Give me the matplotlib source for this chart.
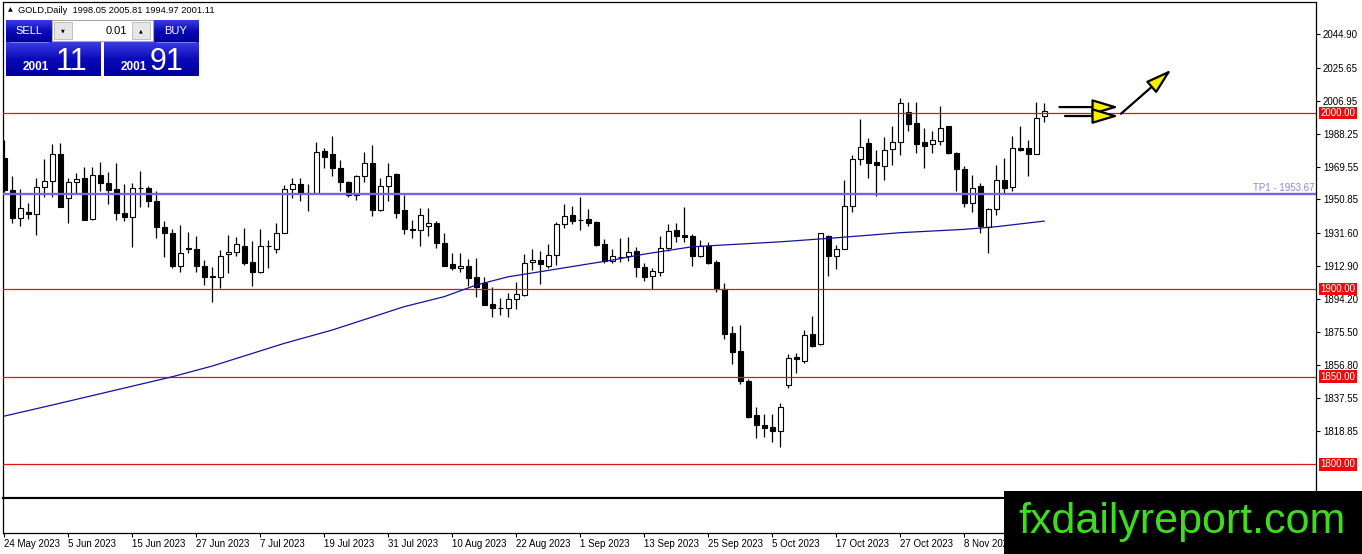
import numpy as np
import matplotlib.pyplot as plt
from matplotlib.patches import Rectangle
from matplotlib.colors import LinearSegmentedColormap
import matplotlib.transforms as mtransforms

plt.rcParams['font.family'] = ['Liberation Sans', 'DejaVu Sans']

# daily GOLD candles (bar 0 = 24 May 2023)
opens = [1974.2, 1956.2, 1940.0, 1943.8, 1942.3, 1958.1, 1961.5, 1976.5, 1951.4, 1960.5,
         1962.8, 1939.5, 1964.7, 1960.3, 1956.6, 1942.9, 1941.0, 1957.1, 1957.1, 1950.1,
         1935.3, 1931.5, 1913.0, 1923.3, 1922.6, 1912.9, 1907.2, 1906.9, 1919.5, 1920.7,
         1924.3, 1915.0, 1909.7, 1924.3, 1922.6, 1931.5, 1956.6, 1959.6, 1954.7, 1954.3,
         1978.4, 1976.7, 1968.9, 1960.9, 1953.3, 1964.1, 1971.7, 1944.8, 1958.4, 1965.1,
         1944.8, 1934.2, 1933.4, 1935.9, 1937.7, 1926.3, 1913.9, 1911.6, 1912.9, 1906.9,
         1903.4, 1891.3, 1888.8, 1888.8, 1893.9, 1896.4, 1915.0, 1916.3, 1912.9, 1919.2,
         1936.8, 1941.9, 1939.1, 1939.5, 1938.2, 1925.4, 1916.0, 1918.3, 1918.6, 1921.6,
         1912.2, 1907.4, 1909.7, 1923.0, 1933.4, 1930.6, 1930.0, 1918.8, 1924.3, 1915.4,
         1899.6, 1874.6, 1864.6, 1847.7, 1828.1, 1822.4, 1821.1, 1819.2, 1845.2, 1861.3,
         1859.1, 1874.2, 1868.5, 1930.2, 1918.8, 1922.4, 1947.1, 1973.6, 1982.7, 1972.3,
         1970.0, 1979.3, 1983.7, 2000.4, 1994.1, 1983.3, 1982.2, 1984.2, 1992.6, 1977.4,
         1968.0, 1949.0, 1958.4, 1934.9, 1945.2, 1961.9, 1958.1, 1979.9, 1979.9, 1976.5,
         1998.05]
highs = [1984.6, 1964.1, 1956.6, 1948.6, 1963.2, 1973.6, 1982.4, 1982.7, 1962.8, 1965.7,
         1969.5, 1969.5, 1971.9, 1966.2, 1971.4, 1959.6, 1960.0, 1967.0, 1958.5, 1955.6,
         1938.7, 1934.0, 1936.3, 1932.5, 1930.0, 1916.3, 1912.2, 1922.0, 1930.6, 1929.6,
         1934.4, 1927.2, 1934.0, 1927.7, 1937.6, 1959.0, 1963.2, 1963.2, 1959.4, 1983.3,
         1979.9, 1987.1, 1973.2, 1961.3, 1964.7, 1977.6, 1981.8, 1962.8, 1971.7, 1965.7,
         1953.3, 1939.1, 1945.7, 1945.7, 1938.6, 1931.5, 1920.1, 1920.5, 1916.7, 1917.3,
         1906.9, 1900.8, 1894.9, 1897.3, 1903.6, 1919.6, 1922.4, 1921.5, 1925.4, 1938.2,
         1948.2, 1947.1, 1952.4, 1945.4, 1938.5, 1928.3, 1922.6, 1928.7, 1929.6, 1923.6,
         1914.8, 1912.0, 1930.0, 1936.6, 1937.2, 1946.7, 1930.9, 1927.7, 1926.4, 1916.3,
         1903.1, 1879.0, 1879.4, 1848.4, 1832.9, 1828.7, 1828.7, 1834.8, 1862.8, 1863.2,
         1876.5, 1884.5, 1931.9, 1930.6, 1924.9, 1961.9, 1976.1, 1996.4, 1985.9, 1978.9,
         1986.5, 1992.6, 2008.3, 2006.5, 2006.5, 1991.3, 1990.0, 2004.0, 1992.6, 1978.0,
         1969.8, 1964.7, 1960.0, 1945.8, 1970.4, 1974.2, 1986.9, 1992.6, 1984.6, 2006.5,
         2005.81]
lows = [1955.2, 1937.6, 1935.9, 1939.5, 1930.6, 1952.4, 1952.4, 1946.7, 1937.2, 1954.7,
        1939.1, 1939.1, 1955.8, 1948.0, 1939.1, 1938.7, 1923.9, 1946.7, 1946.7, 1928.7,
        1918.2, 1911.6, 1909.7, 1920.5, 1909.7, 1902.1, 1892.2, 1900.2, 1909.1, 1918.6,
        1913.5, 1901.7, 1908.8, 1911.6, 1920.5, 1931.5, 1951.4, 1949.9, 1944.2, 1954.3,
        1968.9, 1964.3, 1955.6, 1952.4, 1950.5, 1960.9, 1941.6, 1944.2, 1949.9, 1940.4,
        1930.9, 1928.7, 1924.5, 1930.0, 1923.1, 1913.1, 1910.6, 1909.7, 1901.5, 1895.5,
        1890.7, 1884.1, 1885.0, 1884.1, 1888.5, 1895.8, 1910.6, 1902.7, 1912.0, 1913.5,
        1934.4, 1936.6, 1933.4, 1935.7, 1924.5, 1914.4, 1914.8, 1915.4, 1915.8, 1906.9,
        1904.6, 1899.6, 1907.2, 1921.6, 1926.8, 1926.8, 1912.9, 1918.2, 1914.1, 1898.3,
        1871.4, 1857.0, 1845.6, 1826.2, 1814.8, 1815.8, 1812.6, 1809.7, 1843.3, 1852.2,
        1857.9, 1867.0, 1867.9, 1907.4, 1911.2, 1922.4, 1943.9, 1970.4, 1963.2, 1952.8,
        1961.9, 1970.4, 1976.1, 1989.8, 1977.4, 1968.9, 1977.0, 1981.8, 1976.5, 1955.8,
        1946.3, 1943.9, 1931.9, 1920.1, 1941.9, 1954.3, 1955.6, 1978.6, 1964.1, 1976.5,
        1994.97]
closes = [1956.2, 1940.0, 1945.7, 1942.3, 1958.1, 1961.5, 1976.5, 1946.7, 1960.5, 1962.2,
          1939.1, 1964.7, 1960.0, 1956.2, 1942.9, 1941.0, 1957.1, 1957.3, 1949.9, 1935.3,
          1931.5, 1913.1, 1920.1, 1922.4, 1912.9, 1906.9, 1906.5, 1918.8, 1920.7, 1925.2,
          1914.4, 1909.7, 1924.3, 1924.5, 1931.5, 1956.6, 1959.6, 1954.3, 1954.3, 1977.6,
          1975.1, 1968.5, 1960.9, 1953.3, 1964.1, 1971.7, 1944.8, 1958.4, 1964.1, 1943.3,
          1933.8, 1933.4, 1941.9, 1937.7, 1925.9, 1913.1, 1911.6, 1912.9, 1906.3, 1901.2,
          1890.7, 1888.8, 1889.0, 1893.9, 1896.8, 1914.4, 1916.3, 1914.1, 1919.2, 1936.8,
          1941.4, 1938.7, 1939.1, 1937.2, 1924.9, 1915.8, 1918.8, 1918.2, 1921.1, 1912.5,
          1906.9, 1910.1, 1923.0, 1932.9, 1930.2, 1929.2, 1918.8, 1924.5, 1914.8, 1899.8,
          1874.0, 1864.2, 1847.7, 1827.2, 1822.4, 1820.5, 1819.2, 1832.5, 1860.4, 1859.8,
          1873.7, 1867.4, 1931.5, 1918.8, 1922.4, 1947.1, 1973.6, 1980.5, 1971.7, 1970.4,
          1978.9, 1983.3, 2005.5, 1993.5, 1982.2, 1981.2, 1984.6, 1991.3, 1977.0, 1968.0,
          1949.0, 1957.1, 1935.7, 1945.2, 1961.9, 1957.5, 1979.9, 1979.0, 1976.7, 1997.0,
          2001.11]

# moving average line (bar index, value)
ma_bars = [0, 6, 21, 26, 35, 41, 50, 55, 59, 63, 67, 76, 80, 86, 97, 104, 112, 120, 124, 130]
ma_vals = [1827.5, 1833.8, 1849.9, 1856.0, 1868.9, 1876.5, 1889.8, 1895.5, 1902.1, 1906.8,
           1909.7, 1916.3, 1919.7, 1923.9, 1926.7, 1929.0, 1931.9, 1933.8, 1935.3, 1938.5]

levels = [2000.0, 1900.0, 1850.0, 1800.0]
tp1 = 1953.67
price_ticks = [2044.90, 2025.65, 2006.95, 1988.25, 1969.55, 1950.85, 1931.60,
               1912.90, 1894.20, 1875.50, 1856.80, 1837.55, 1818.85]
date_bars = [0, 8, 16, 24, 32, 40, 48, 56, 64, 72, 80, 88, 96, 104, 112, 120]
date_labels = ['24 May 2023', '5 Jun 2023', '15 Jun 2023', '27 Jun 2023', '7 Jul 2023',
               '19 Jul 2023', '31 Jul 2023', '10 Aug 2023', '22 Aug 2023', '1 Sep 2023',
               '13 Sep 2023', '25 Sep 2023', '5 Oct 2023', '17 Oct 2023', '27 Oct 2023',
               '8 Nov 2023']

W, H = 1362, 554
fig = plt.figure(figsize=(W / 100, H / 100), dpi=100)
fig.patch.set_facecolor('white')


def px(l, t, r, b):
    return [l / W, 1 - b / H, (r - l) / W, (b - t) / H]


ax = fig.add_axes(px(3, 2, 1316, 498))
sub = fig.add_axes(px(3, 498, 1316, 533), sharex=ax)

for a in (ax, sub):
    for s in a.spines.values():
        s.set_color('black')
        s.set_linewidth(0.9)
ax.spines['bottom'].set_linewidth(1.5)
sub.spines['top'].set_linewidth(1.5)

# candles
x = np.arange(len(opens))
o = np.array(opens); c = np.array(closes)
lo = np.minimum(o, c)
hgt = np.maximum(np.abs(c - o), 0.15)
cols = ['white' if cc >= oo else 'black' for oo, cc in zip(o, c)]
ax.vlines(x, lows, highs, color='black', lw=0.9, zorder=2)
ax.bar(x, hgt, bottom=lo, width=0.62, color=cols, edgecolor='black', linewidth=0.8, zorder=3)

# levels, TP1, MA
for lv in levels:
    ax.axhline(lv, color='#e01515', lw=0.9, zorder=4)
ax.axhline(tp1, color='#7468e2', lw=1.7, zorder=4)
ax.plot(ma_bars, ma_vals, color='#12129c', lw=0.9, zorder=5)

trans = mtransforms.blended_transform_factory(ax.transAxes, ax.transData)
ax.text(0.9985, tp1 + 0.9, 'TP1 - 1953.67', transform=trans, ha='right', va='bottom',
        color='#8c84ea', fontsize=7)
for lv in levels:
    ax.text(1.0035, lv, f'{lv:.2f}', transform=trans, ha='left', va='center', color='white',
            fontsize=7, clip_on=False, zorder=6,
            bbox=dict(boxstyle='square,pad=0.12', fc='#ee0a0a', ec='none'))

# arrows
arr = dict(arrowstyle='-|>,head_length=0.8,head_width=0.24', mutation_scale=20,
           fc='#f5f000', ec='black', lw=1.6, shrinkA=0, shrinkB=0)
ax.annotate('', xy=(139.3, 2003.4), xytext=(131.9, 2003.4), arrowprops=arr, zorder=6)
ax.annotate('', xy=(139.3, 1998.3), xytext=(132.6, 1998.3), arrowprops=arr, zorder=6)
ax.annotate('', xy=(145.9, 2024.7), xytext=(139.6, 1999.6), arrowprops=arr, zorder=6)

ax.set_xlim(-0.15, 1313 / 8 - 0.15)
ax.set_ylim(1780.9, 2063.2)
ax.yaxis.tick_right()
ax.set_yticks(price_ticks)
ax.set_yticklabels([f'{v:.2f}' for v in price_ticks])
ax.tick_params(axis='y', direction='out', length=3, width=0.8, pad=2, labelsize=7,
               right=True, left=False)
ax.tick_params(axis='x', bottom=False, labelbottom=False)

sub.set_yticks([])
sub.set_xticks(date_bars)
sub.set_xticklabels(date_labels)
sub.tick_params(axis='x', direction='out', length=3, width=0.8, pad=1.5, labelsize=7)
for lbl in sub.get_xticklabels():
    lbl.set_ha('left')

# overlay in pixel coordinates: trade panel, header, watermark
ov = fig.add_axes([0, 0, 1, 1])
ov.set_zorder(10)
ov.axis('off')
blue = LinearSegmentedColormap.from_list('b', ['#3b3be6', '#0a0ab8', '#00009a'])
grad = np.linspace(0, 1, 64).reshape(-1, 1)
for (x0, y0, x1, y1) in [(6, 20, 52, 42), (153, 20, 199, 42), (6, 42, 101, 76), (104, 42, 199, 76)]:
    ov.imshow(grad, extent=[x0, x1, y1, y0], cmap=blue, aspect='auto', zorder=1)
ov.add_patch(Rectangle((52, 20), 101, 21, fc='white', ec='#a8a8a8', lw=0.8, zorder=2))
ov.add_patch(Rectangle((54, 22), 18, 17, fc='#e6e6e6', ec='#b8b8b8', lw=0.6, zorder=3))
ov.add_patch(Rectangle((132, 22), 18, 17, fc='#e6e6e6', ec='#b8b8b8', lw=0.6, zorder=3))
ov.text(63, 30.5, '\u25BC', fontsize=3.5, ha='center', va='center', color='black',
        family='DejaVu Sans', zorder=4)
ov.text(141, 30.5, '\u25B2', fontsize=3.5, ha='center', va='center', color='black',
        family='DejaVu Sans', zorder=4)
ov.text(127, 30.5, '0.01', fontsize=8, ha='right', va='center', color='black', zorder=4)
ov.plot([10, 48], [41.5, 41.5], color='#8a8aff', lw=0.6, zorder=4)
ov.plot([157, 195], [41.5, 41.5], color='#8a8aff', lw=0.6, zorder=4)
ov.text(29, 31, 'SELL', fontsize=8, ha='center', va='center', color='white', zorder=4)
ov.text(176, 31, 'BUY', fontsize=8, ha='center', va='center', color='white', zorder=4)
ov.text(36, 70, '2001', fontsize=8.5, fontweight='bold', ha='center', va='baseline',
        color='white', zorder=4)
ov.text(71, 70, '11', fontsize=22, ha='center', va='baseline', color='white', zorder=4)
ov.text(134, 70, '2001', fontsize=8.5, fontweight='bold', ha='center', va='baseline',
        color='white', zorder=4)
ov.text(167, 70, '91', fontsize=22, ha='center', va='baseline', color='white', zorder=4)

ov.text(10, 10, '\u25B2', fontsize=4.5, ha='center', va='center', family='DejaVu Sans')
ov.text(18, 10.5, 'GOLD,Daily  1998.05 2005.81 1994.97 2001.11', fontsize=6.7,
        ha='left', va='center', color='black')

ov.add_patch(Rectangle((1004, 491), 358, 63, fc='black', ec='none', zorder=5))
ov.text(1182, 533, 'fxdailyreport.com', fontsize=31, ha='center', va='baseline',
        color='#3edc1e', zorder=6)

ov.set_xlim(0, W)
ov.set_ylim(H, 0)

fig.savefig('out.png', dpi=100, facecolor='white')
